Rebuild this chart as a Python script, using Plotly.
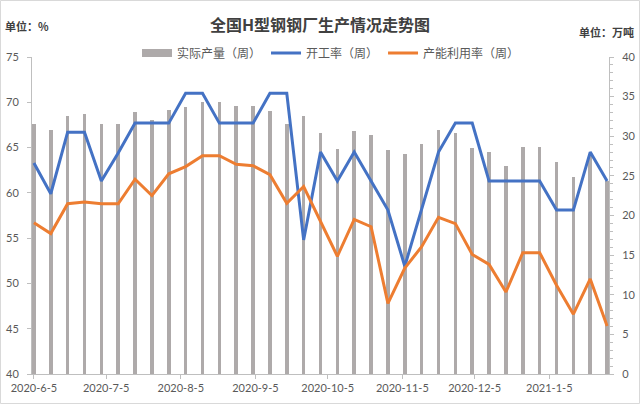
import plotly.graph_objects as go
import pandas as pd

# ---- data ----
weeks = pd.date_range("2020-06-05", periods=35, freq="7D")
output_wt = [31.5, 30.8, 32.5, 32.8, 31.5, 31.5, 33.0, 32.0, 33.3, 33.7,
             34.3, 34.3, 33.8, 33.8, 33.2, 31.5, 32.5, 30.4, 28.4, 30.7,
             30.15, 28.3, 27.7, 29.0, 30.8, 30.4, 28.5, 28.0, 26.2, 28.6,
             28.6, 26.7, 24.9, 27.8, 24.3]
operating_rate = [63.3, 59.9, 66.7, 66.7, 61.3, 64.4, 67.7, 67.7, 67.7, 71.0,
                  71.0, 67.7, 67.7, 67.7, 71.0, 71.0, 54.8, 64.5, 61.3, 64.5,
                  61.3, 58.1, 51.9, 58.1, 64.5, 67.7, 67.7, 61.3, 61.3, 61.3,
                  61.3, 58.1, 58.1, 64.5, 61.3]
capacity_util = [56.7, 55.5, 58.8, 59.0, 58.8, 58.8, 61.5, 59.7, 62.1, 62.9,
                 64.1, 64.1, 63.15, 63.0, 62.0, 58.85, 60.7, 56.8, 53.0, 57.07,
                 56.26, 47.8, 51.7, 54.05, 57.3, 56.6, 53.2, 52.1, 49.05, 53.4,
                 53.4, 49.8, 46.6, 50.5, 45.3]
tick_dates = ["2020-06-05", "2020-07-05", "2020-08-05", "2020-09-05",
              "2020-10-05", "2020-11-05", "2020-12-05", "2021-01-05"]
tick_text = ["2020-6-5", "2020-7-5", "2020-8-5", "2020-9-5",
             "2020-10-5", "2020-11-5", "2020-12-5", "2021-1-5"]
names = ["实际产量（周）", "开工率（周）", "产能利用率（周）"]

# ---- styling ----
W, H = 640, 404
L, R, T, B = 32, 31, 57, 30
pw, ph = W - L - R, H - T - B
def px(x): return (x - L) / pw
def py(y): return (H - B - y) / ph

GRAY = "#AEAAAA"
BLUE = "#4472C4"
ORANGE = "#ED7D31"
TXT = "#595959"
CJK = "Noto Sans CJK SC"
NUM = "Lato"
AX = "#BFBFBF"

fig = go.Figure()
fig.add_trace(go.Bar(x=weeks, y=output_wt, width=1.5 * 86400000,
                     marker=dict(color=GRAY, line=dict(width=0)),
                     name=names[0], showlegend=False, yaxis="y"))
fig.add_trace(go.Scatter(x=[None], y=[None], mode="lines", name=names[0],
                         line=dict(color=GRAY, width=8), yaxis="y2"))
fig.add_trace(go.Scatter(x=weeks, y=operating_rate, mode="lines", name=names[1],
                         line=dict(color=BLUE, width=3), yaxis="y2"))
fig.add_trace(go.Scatter(x=weeks, y=capacity_util, mode="lines", name=names[2],
                         line=dict(color=ORANGE, width=3), yaxis="y2"))

fig.update_layout(
    width=W, height=H, margin=dict(l=L, r=R, t=T, b=B, autoexpand=False),
    paper_bgcolor="white", plot_bgcolor="white",
    title=dict(text="<b>全国H型钢钢厂生产情况走势图</b>", x=0.5, xanchor="center",
               y=1 - 25 / H, yanchor="middle",
               font=dict(family=CJK, size=16, color="#404040")),
    showlegend=True,
    legend=dict(orientation="h", x=px(331), xanchor="center", y=py(53), yanchor="middle",
                font=dict(family=CJK, size=12, color=TXT), bgcolor="rgba(0,0,0,0)",
                itemwidth=30, traceorder="normal"),
    bargap=0,
    xaxis=dict(type="date", range=["2020-06-04 05:00", "2021-01-29 19:00"],
               tickvals=tick_dates, ticktext=tick_text, ticks="outside", ticklen=4,
               tickcolor=AX, showline=True, linecolor=AX, linewidth=1,
               showgrid=False, zeroline=False,
               tickfont=dict(family=NUM, size=11, color=TXT)),
    yaxis=dict(side="right", range=[0, 40], dtick=5, ticks="outside", ticklen=4,
               tickcolor=AX, showline=True, linecolor=AX, linewidth=1,
               showgrid=False, zeroline=False, ticklabelstandoff=6,
               minor=dict(dtick=1, ticks="outside", ticklen=3, tickcolor=AX, showgrid=False),
               tickfont=dict(family=NUM, size=11, color=TXT)),
    yaxis2=dict(side="left", overlaying="y", range=[40, 75], dtick=5, ticks="outside",
                ticklen=4, tickcolor=AX, showline=True, linecolor=AX, linewidth=1,
                showgrid=False, zeroline=False, ticklabelstandoff=6,
                tickfont=dict(family=NUM, size=11, color=TXT)),
    annotations=[
        dict(text="<b>单位：%</b>", x=px(3), y=py(26), xref="paper", yref="paper",
             xanchor="left", yanchor="middle", showarrow=False,
             font=dict(family=CJK, size=11, color="#404040")),
        dict(text="<b>单位：万吨</b>", x=px(636), y=py(32), xref="paper", yref="paper",
             xanchor="right", yanchor="middle", showarrow=False,
             font=dict(family=CJK, size=11, color="#404040")),
    ],
    shapes=[dict(type="rect", xref="paper", yref="paper",
                 x0=px(0.5), x1=px(W - 0.5), y0=py(H - 0.5), y1=py(0.5),
                 line=dict(color="#D9D9D9", width=1), fillcolor="rgba(0,0,0,0)",
                 layer="below")],
)

fig.write_html("out.html", config={"displayModeBar": False},
               post_script="document.body.style.margin='0';")
